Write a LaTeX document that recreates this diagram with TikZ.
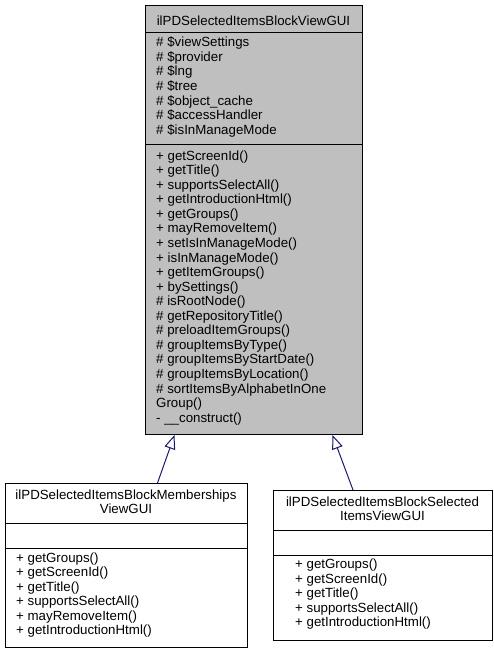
\documentclass[tikz,border=0pt]{standalone}
\usepackage{fontspec}
\setmainfont{Liberation Sans}
\usepackage{tikz}
\usetikzlibrary{arrows.meta,positioning}
\definecolor{classgray}{HTML}{BFBFBF}
\definecolor{edgeblue}{HTML}{191970}

\begin{document}
\begin{tikzpicture}[
  x=1pt, y=-1pt,
  classbox/.style={draw=black, line width=1pt, anchor=north west, inner sep=0pt},
  txt/.style={font=\fontsize{13.3}{14.56}\selectfont, inner sep=0pt},
  members/.style={txt, anchor=north west, align=left},
  classname/.style={txt, align=center},
  inherit/.style={draw=edgeblue, line width=1pt, -{Triangle[open, length=14pt, width=11pt]}}
]
\useasboundingbox (0,0) rectangle (493,653);

% base class
\node[classbox, fill=classgray, minimum width=217pt, minimum height=429pt] (base) at (145,5) {};
\draw[line width=1pt] (145,32) -- (362,32);
\draw[line width=1pt] (145,144) -- (362,144);
\node[classname, anchor=base] (basename) at (253.5,25) {ilPDSelectedItemsBlockViewGUI};
\node[members] (baseattr) at (156,36.8) {\# \$viewSettings\\\# \$provider\\\# \$lng\\\# \$tree\\\# \$object\_cache\\\# \$accessHandler\\\# \$isInManageMode};
\node[members] (baseops) at (156,150.3) {+ getScreenId()\\+ getTitle()\\+ supportsSelectAll()\\+ getIntroductionHtml()\\+ getGroups()\\+ mayRemoveItem()\\+ setIsInManageMode()\\+ isInManageMode()\\+ getItemGroups()\\+ bySettings()\\\# isRootNode()\\\# getRepositoryTitle()\\\# preloadItemGroups()\\\# groupItemsByType()\\\# groupItemsByStartDate()\\\# groupItemsByLocation()\\\# sortItemsByAlphabetInOne\\Group()\\- \_\_construct()};

% memberships view
\node[classbox, fill=white, minimum width=242pt, minimum height=164pt] (memb) at (5,483) {};
\draw[line width=1pt] (5,523) -- (247,523);
\draw[line width=1pt] (5,548) -- (247,548);
\node[classname, anchor=north] (membname) at (126,489.3) {ilPDSelectedItemsBlockMemberships\\ViewGUI};
\node[members] (membops) at (16,552.3) {+ getGroups()\\+ getScreenId()\\+ getTitle()\\+ supportsSelectAll()\\+ mayRemoveItem()\\+ getIntroductionHtml()};

% selected items view
\node[classbox, fill=white, minimum width=219pt, minimum height=150pt] (sel) at (273,490) {};
\draw[line width=1pt] (273,530) -- (492,530);
\draw[line width=1pt] (273,555) -- (492,555);
\node[classname, anchor=north] (selname) at (382.5,496.3) {ilPDSelectedItemsBlockSelected\\ItemsViewGUI};
\node[members] (selops) at (295,558.8) {+ getGroups()\\+ getScreenId()\\+ getTitle()\\+ supportsSelectAll()\\+ getIntroductionHtml()};

\draw[inherit] ([xshift=31pt]memb.north) -- ([xshift=-79.5pt]base.south);
\draw[inherit] ([xshift=-30pt]sel.north) -- ([xshift=78.5pt]base.south);
\end{tikzpicture}
\end{document}
